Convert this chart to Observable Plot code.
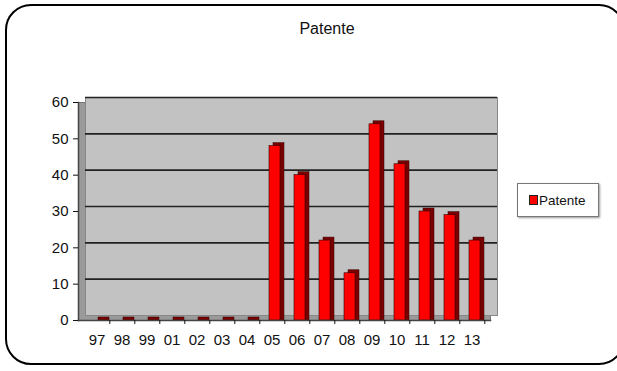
<!DOCTYPE html>
<html><head><meta charset="utf-8">
<script src="https://cdn.jsdelivr.net/npm/d3@7"></script>
<script src="https://cdn.jsdelivr.net/npm/@observablehq/plot@0.6"></script>
<style>
html,body{margin:0;padding:0;background:#fff;}
#wrap{position:relative;width:617px;height:371px;overflow:hidden;font-family:"Liberation Sans",Arial,sans-serif;}
#border{position:absolute;left:5px;top:4px;width:620px;height:361px;border:2.5px solid #000;border-radius:26px;box-sizing:border-box;}
#title{position:absolute;left:0;width:654px;top:20px;text-align:center;font-size:16px;color:#111;}
#chart{position:absolute;left:0;top:50px;}
#legend{position:absolute;left:517px;top:183px;width:82px;height:34px;border:1px solid #777;box-shadow:1px 1px 2px #999;background:#fff;box-sizing:border-box;font-size:13.5px;display:flex;align-items:center;padding-left:11px;color:#111;}
#legend .sw{width:7px;height:8px;background:#f00;border:1.5px solid #222;margin-right:1px;}
</style></head>
<body><div id="wrap"><div id="border"></div><div id="title">Patente</div><div id="chart"></div>
<div id="legend"><span class="sw"></span>Patente</div></div>
<script>
const years = ["97","98","99","01","02","03","04","05","06","07","08","09","10","11","12","13"];
const patents = [0,0,0,0,0,0,0,48,40,22,13,54,43,30,29,22];
const yTicks = [0,10,20,30,40,50,60];
const data = years.map((y,i)=>({year:y, value:patents[i]}));

const chart = Plot.plot({
  width:617, height:300,
  marginTop:52, marginBottom:30, marginLeft:78, marginRight:127,
  style:{fontFamily:"Liberation Sans, Arial, sans-serif", fontSize:"15px", color:"#111", background:"transparent"},
  x:{domain:years, paddingInner:0.57, paddingOuter:0.33, label:null},
  y:{domain:[0,60], label:null},
  marks:[
    Plot.frame({fill:"#9a9a9a", stroke:"#777"}),
    Plot.frame({fill:"#c2c2c2", stroke:"#888", dx:7, dy:-5}),
    Plot.ruleY(yTicks.slice(1), {dx:7, dy:-5, stroke:"#222", strokeWidth:1.6}),
    Plot.rectY(data, {x:"year", y:"value", fill:"#7a0000", stroke:"#300", strokeWidth:0.5, dx:7, dy:-3, insetBottom:-3}),
    Plot.rectY(data, {x:"year", y:"value", fill:"#ff0000", stroke:"#300", strokeWidth:0.6, dx:3}),
    Plot.frame({anchor:"left", stroke:"#444", strokeWidth:1.5}),
    Plot.frame({anchor:"bottom", stroke:"#444", strokeWidth:1.5}),
    Plot.axisY({ticks:yTicks, tickSize:5, tickPadding:5, label:null}),
    Plot.axisX({tickSize:4, text:null, dx:12.8, label:null}),
    Plot.axisX({tickSize:0, tickPadding:14, label:null})
  ]
});
document.getElementById("chart").appendChild(chart);
</script></body></html>
